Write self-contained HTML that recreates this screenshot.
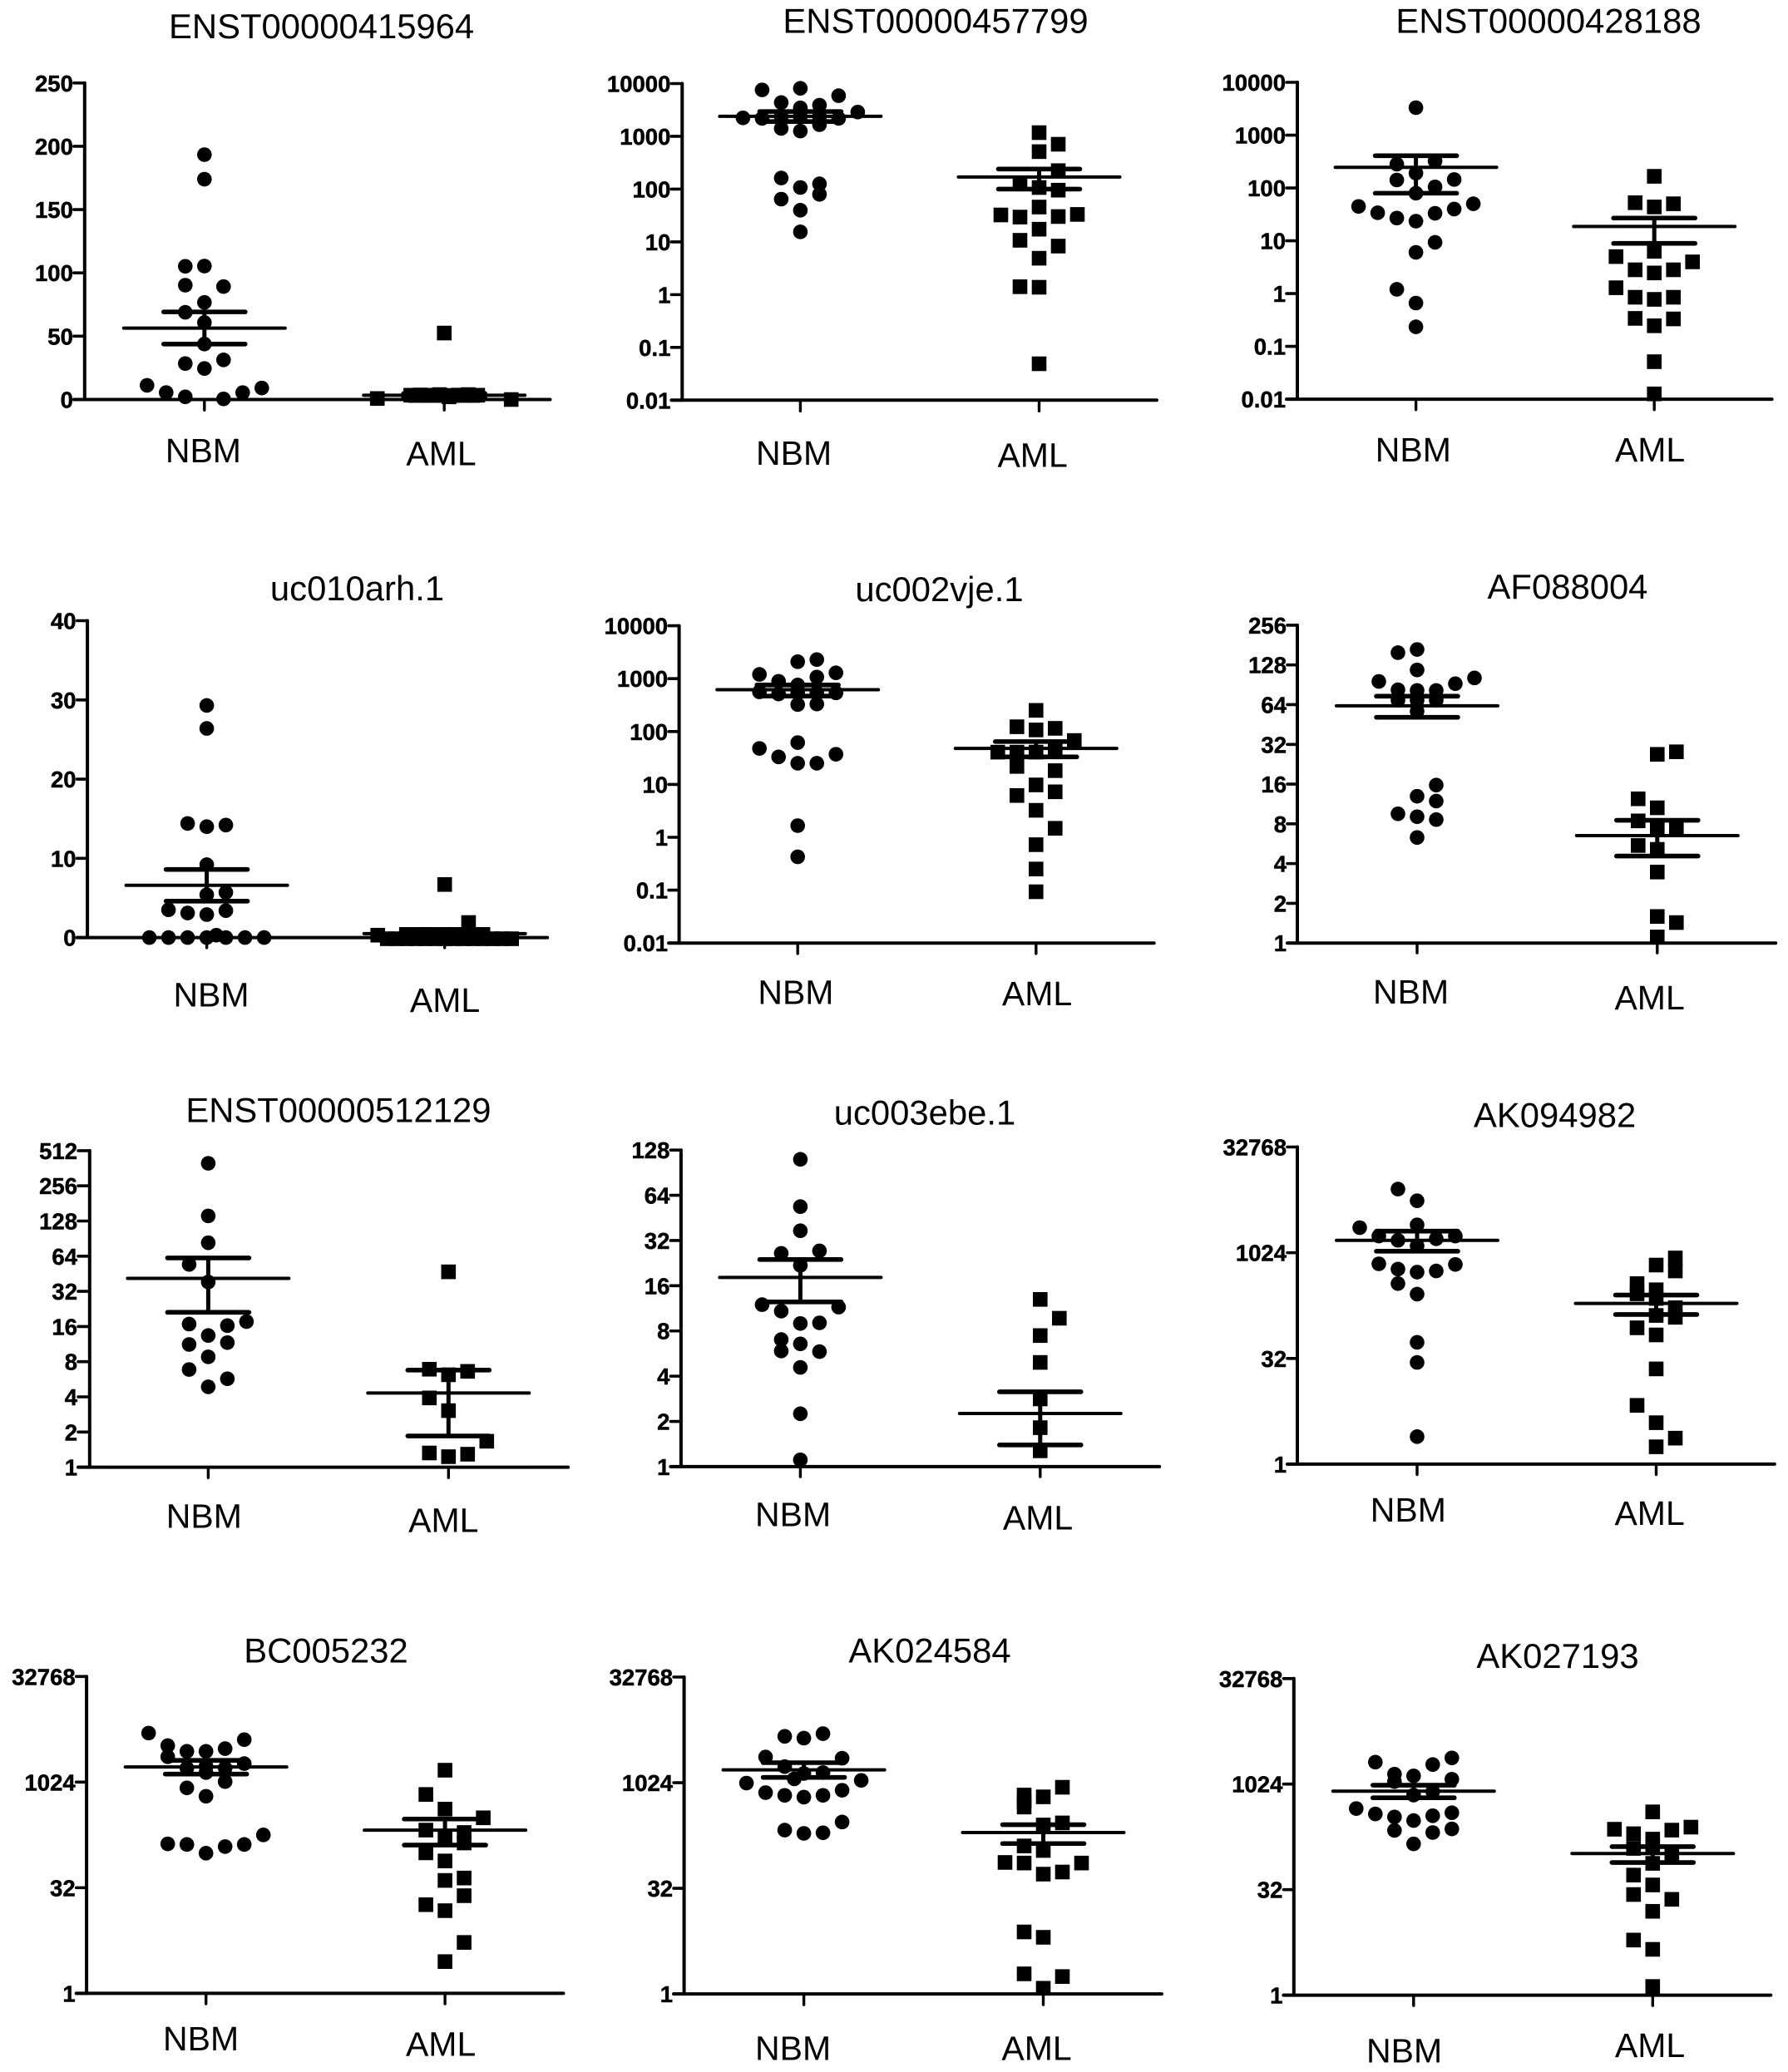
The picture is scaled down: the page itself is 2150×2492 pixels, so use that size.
<!DOCTYPE html>
<html lang="en">
<head>
<meta charset="utf-8">
<title>NBM vs AML expression panels</title>
<style>
  html, body { margin: 0; padding: 0; background: #fff; }
  svg { display: block; }
  text { font-family: "Liberation Sans", Arial, sans-serif; fill: #000; }
</style>
</head>
<body>
<svg id="figure" xmlns="http://www.w3.org/2000/svg" width="2150" height="2492" viewBox="0 0 2150 2492"></svg>
<script>
// ---------- Data (linear panels in raw units, log panels as log10 / log2 exponents) ----------
const titles = ["ENST00000415964","ENST00000457799","ENST00000428188","uc010arh.1","uc002vje.1","AF088004","ENST00000512129","uc003ebe.1","AK094982","BC005232","AK024584","AK027193"];
const categories = ["NBM","AML"];

const tickPositions = [
  [0,50,100,150,200,250],
  [-2,-1,0,1,2,3,4],
  [-2,-1,0,1,2,3,4],
  [0,10,20,30,40],
  [-2,-1,0,1,2,3,4],
  [0,1,2,3,4,5,6,7,8],
  [0,1,2,3,4,5,6,7,8,9],
  [0,1,2,3,4,5,6,7],
  [0,5,10,15],
  [0,5,10,15],
  [0,5,10,15],
  [0,5,10,15]
];
const tickLabels = [
  ["0","50","100","150","200","250"],
  ["0.01","0.1","1","10","100","1000","10000"],
  ["0.01","0.1","1","10","100","1000","10000"],
  ["0","10","20","30","40"],
  ["0.01","0.1","1","10","100","1000","10000"],
  ["1","2","4","8","16","32","64","128","256"],
  ["1","2","4","8","16","32","64","128","256","512"],
  ["1","2","4","8","16","32","64","128"],
  ["1","32","1024","32768"],
  ["1","32","1024","32768"],
  ["1","32","1024","32768"],
  ["1","32","1024","32768"]
];

const nbmValues = [
  [193.4,174,105.2,105.4,90.3,89.2,76.7,68.9,60.8,43.8,28.4,31.3,24.5,11.2,5.5,2.1,0.5,5.5,9.1],
  [3.88,3.91,3.77,3.64,3.54,3.59,3.46,3.35,3.34,3.34,3.37,3.37,3.37,3.15,3.10,3.22,2.21,2.10,2.03,1.90,1.81,1.60,1.19],
  [3.52,2.45,2.51,2.28,2.15,2.16,2.02,1.90,1.65,1.70,1.53,1.43,1.37,1.52,1.60,0.97,0.78,0.08,-0.18,-0.63],
  [29.3,26.4,14.4,14.0,14.2,9.2,5.7,5.4,3.5,3.1,2.9,3.4,0,0,0,0,0,0,0,0.3],
  [3.32,3.36,3.08,3.11,2.95,3.03,2.88,2.75,2.71,2.73,2.73,2.73,2.51,2.52,1.79,1.68,1.52,1.40,1.40,1.57,0.22,-0.37],
  [7.388,7.308,6.873,6.584,6.672,6.527,6.374,6.358,6.358,6.109,6.109,6.109,5.835,3.976,3.694,3.573,3.252,3.179,3.107,2.656],
  [8.64,7.145,6.381,5.766,5.265,4.14,4.069,4.025,3.744,3.542,3.489,3.138,2.777,2.514,2.285],
  [6.795,5.749,5.216,4.717,4.771,4.45,3.582,3.527,3.438,3.165,3.179,2.81,2.714,2.557,2.543,2.194,1.169,0.15],
  [13.01,12.456,11.184,11.316,10.789,10.789,10.585,10.658,10.322,9.474,9.225,9.079,9.137,9.444,8.538,8.041,5.76,4.81,1.301],
  [12.321,11.726,11.201,11.456,11.456,11.584,12.009,10.875,10.662,10.449,10.662,10.75,9.726,10.024,9.329,7.075,7.047,6.635,6.947,7.047,7.5],
  [12.193,12.108,12.321,11.215,11.158,10.761,10.478,10.435,10.18,9.982,10.109,9.528,9.4,9.315,9.4,9.641,8.138,7.755,7.6,7.628],
  [11.04,11.239,10.927,10.472,10.387,10.231,10.118,9.65,9.479,8.841,8.585,8.642,8.443,8.5,8.273,7.805,7.876,7.705,7.166]
];
const nbmSwarmSlots = [
  [0,0,-1,0,-1,1,0,-1,0,0,-1,1,0,-3,-2,-1,1,2,3],
  [-2,0,2,-1,0,1,3,-3,-2,2,0,-1,1,-1,0,1,-1,1,0,1,-1,0,0],
  [0,-1,1,0,-1,2,1,0,-3,3,-2,-1,0,1,2,1,0,-1,0,0],
  [0,0,-1,0,1,0,1,0,-2,-1,0,1,-3,-2,-1,0,1,2,3,0.5],
  [0,1,-2,2,-1,1,0,-2,-1,0,1,2,0,1,0,-2,-1,0,1,2,0,0],
  [0,-1,0,-2,3,2,-1,0,1,-1,0,1,0,1,0,1,-1,0,1,0],
  [0,0,0,-1,0,2,-1,1,0,1,-1,0,-1,1,0],
  [0,0,0,-1,1,0,-2,2,-1,0,1,-1,0,-1,1,0,0,0],
  [-1,0,-3,0,-2,2,-1,1,0,-2,-1,0,1,2,-1,0,0,0,0],
  [-3,-2,-2,-1,0,1,2,2,-1,0,1,0,-1,1,0,-2,-1,0,1,2,3],
  [-1,0,1,-2,2,-1,1,0,-0.5,-3,3,-2,-1,0,1,2,2,-1,0,1],
  [-2,2,1,-1,0,2,-1,1,0,-3,-2,2,-1,1,0,-1,2,1,0]
];
const amlValues = [
  [52.5,0.8,0,3.4,3.6,3.4,3.9,2.1,3.5,3.9,3.4,3.2,3.2,3.2,3.2,3.2,3.2,3.2],
  [3.07,2.85,2.71,2.35,2.12,2.03,1.98,1.66,1.51,1.47,1.48,1.52,1.24,1.03,0.92,0.69,0.15,0.14,-1.31],
  [2.22,1.72,1.64,1.70,0.80,0.70,0.45,0.39,0.45,0.60,0.11,-0.07,-0.11,-0.07,-0.47,-0.61,-0.48,-1.29,-1.90],
  [6.7,1.9,0.3,0.4,0.4,0.4,0.4,0.4,0.4,0.4,0.4,0.4,-0.15,-0.15,-0.15,-0.15,-0.15,-0.15,-0.15,-0.15,-0.15,-0.15,-0.15,-0.15,-0.15,-0.15],
  [2.40,2.09,2.03,2.06,1.83,1.61,1.61,1.61,1.63,1.34,1.26,0.99,0.86,0.79,0.51,0.17,-0.14,-0.60,-1.03],
  [4.749,4.813,3.63,3.404,3.074,2.873,2.913,2.455,2.358,1.787,0.668,0.515,0.153],
  [5.555,2.786,2.628,2.725,1.969,1.608,0.738,0.404,0.299,0.369],
  [3.698,3.281,2.898,2.304,1.497,0.861,0.349],
  [9.751,9.415,9.137,8.538,8.246,8.056,7.836,7.398,7.032,6.944,6.447,6.111,4.503,2.778,1.959,1.228,0.819],
  [10.563,9.415,8.72,8.309,7.727,7.614,7.401,7.118,6.65,6.267,5.459,5.345,4.622,4.197,3.913,2.41,1.503],
  [9.783,9.329,9.415,9.13,8.847,7.997,8.096,7.004,6.791,6.224,6.196,6.196,5.771,5.671,2.935,2.68,0.95,0.822,0.269],
  [8.684,7.861,7.961,7.819,7.649,7.393,6.953,7.067,6.67,6.244,5.69,5.222,4.768,4.541,3.973,2.611,2.171,0.412]
];
const amlSwarmSlots = [
  [0,-3.5,3.5,-1.75,-1.25,-0.75,-0.25,0.25,0.75,1.25,1.75,-1.5,-1,-0.5,0,0.5,1,1.5],
  [0,1,0,1,-1,0,1,0,-2,-1,1,2,0,-1,1,0,-1,0,0],
  [0,-1,0,1,0,-2,-1,0,1,2,-2,-1,0,1,-1,0,1,0,0],
  [0,1.25,-3.5,-2,-1.5,-1,-0.5,0,0.5,1,1.5,2,-3,-2.5,-2,-1.5,-1,-0.5,0,0.5,1,1.5,2,2.5,3,3.5],
  [0,-1,0,1,2,-2,-1,0,1,-1,1,0,1,-1,0,1,0,0,0],
  [0,1,-1,0,-1,0,1,-1,0,0,0,1,0],
  [0,-1,0,1,-1,0,2,-1,0,1],
  [0,1,0,0,0,0,0],
  [1,0,1,-1,0,-1,0,1,0,1,-1,0,0,-1,0,1,0],
  [0,-1,0,2,-1,1,0,1,-1,0,1,0,1,-1,0,1,0],
  [1,0,-1,-1,-1,0,1,-1,0,-2,-1,2,1,0,-1,0,-1,1,0],
  [0,-2,2,1,-1,0,-1,0,1,0,-1,0,-1,1,0,-1,0,0]
];

const nbmMean    = [56.4,3.38,2.39,6.6,2.79,5.972,5.37,4.183,10.585,10.719,10.606,9.664];
const nbmSemHigh = [69.2,3.47,2.61,8.6,2.88,6.213,5.95,4.58,11.02,11.031,10.946,9.948];
const nbmSemLow  = [43.8,3.28,1.90,4.6,2.67,5.682,4.403,3.643,10.07,10.379,10.251,9.351];
const amlMean    = [3.4,2.23,1.27,0.5,1.68,2.704,2.109,1.176,7.602,7.727,7.642,6.712];
const amlSemHigh = [4.7,2.38,1.43,0.6,1.81,3.09,2.76,1.654,7.997,8.252,8.011,7.038];
const amlSemLow  = [1.8,2.0,0.95,0.32,1.52,2.189,0.888,0.479,7.076,7.018,7.118,6.286];

// ---------- Layout (page geometry of each panel, not data) ----------
const layout = [
  {ax:103.8, top:101.4, bot:482.1, right:663.5, tl:90.9, te:494.8, c:[247.8,536.2], tx:388.6, ty:47.7, lx:[246.4,532.5], ly:[557.6,561.2]},
  {ax:822.3, top:102.1, bot:482.9, right:1392.9, tl:809.4, te:496, c:[964.4,1251.5], tx:1127, ty:41.3, lx:[956.6,1243.6], ly:[560.4,563.2]},
  {ax:1562, top:100.6, bot:481.7, right:2132.6, tl:1549, te:494.4, c:[1704.6,1991.2], tx:1864, ty:41.3, lx:[1701.3,1986], ly:[556.4,556.4]},
  {ax:107.1, top:748.1, bot:1129.2, right:660.2, tl:94.6, te:1141.5, c:[250.6,536.7], tx:431.5, ty:723.8, lx:[256,537], ly:[1211.9,1218.8]},
  {ax:818.6, top:754.2, bot:1135.8, right:1389.7, tl:806.1, te:1148.5, c:[961.2,1247.8], tx:1131.5, ty:724.6, lx:[958.9,1249], ly:[1209.2,1210.8]},
  {ax:1562, top:753.5, bot:1135.8, right:2137.2, tl:1550, te:1147.7, c:[1706,1994.8], tx:1887, ty:721.5, lx:[1698.6,1985.6], ly:[1208.8,1215.8]},
  {ax:109.8, top:1385.5, bot:1766.2, right:685.1, tl:96, te:1778.9, c:[252.4,541.3], tx:408.9, ty:1351.3, lx:[247.3,535.3], ly:[1839,1843.9]},
  {ax:820.9, top:1384.8, bot:1765.5, right:1396.2, tl:808.4, te:1777.7, c:[964.4,1252.8], tx:1114, ty:1354.3, lx:[955.6,1250], ly:[1837.2,1840.9]},
  {ax:1562, top:1381.1, bot:1762.5, right:2135.8, tl:1550, te:1775.1, c:[1706,1993.5], tx:1871.6, ty:1356.9, lx:[1695.3,1985.6], ly:[1831.6,1835.4]},
  {ax:106.1, top:2017.9, bot:2399, right:679.5, tl:93.7, te:2411.6, c:[249.7,537.1], tx:394, ty:2001, lx:[243.6,532.1], ly:[2467.8,2473.9]},
  {ax:824.6, top:2018.6, bot:2399.7, right:1398.9, tl:812.1, te:2412.7, c:[968.6,1256.5], tx:1120, ty:2001.3, lx:[955.6,1248.5], ly:[2479.3,2479.3]},
  {ax:1557.8, top:2020.4, bot:2401.2, right:2131.2, tl:1545.4, te:2413.8, c:[1701.8,1989.3], tx:1875, ty:2007.4, lx:[1690.6,1986], ly:[2482.2,2475.7]}
];
const SLOT_WIDTH = 23;
const DOT_R = 8.8;
const SQUARE = 17.6;
const MEAN_HALF = 97;
const CAP_HALF = 49;

// ---------- Rendering ----------
const NS = "http://www.w3.org/2000/svg";
const svg = document.getElementById("figure");

function node(parent, tag, attrs) {
  const el = document.createElementNS(NS, tag);
  for (const k in attrs) el.setAttribute(k, attrs[k]);
  parent.appendChild(el);
  return el;
}
function strokeLine(parent, x1, y1, x2, y2, w) {
  return node(parent, "line", {x1: x1, y1: y1, x2: x2, y2: y2, stroke: "#000", "stroke-width": w, "stroke-linecap": "round"});
}

const root = node(svg, "g", {transform: "translate(-2,-1.6)"});



titles.forEach(function (title, p) {
  const f = layout[p];
  const ticks = tickPositions[p];
  const dMin = ticks[0];
  const dMax = ticks[ticks.length - 1];
  const yScale = function (v) { return f.bot - (v - dMin) / (dMax - dMin) * (f.bot - f.top); };

  const g = node(root, "g", {});
  
  

  const t = node(g, "text", {x: f.tx, y: f.ty, "text-anchor": "middle", "font-size": 41.8});
  
  
  t.textContent = title;

  // points first, so summary bars sit on top
  const series = [
    {vals: nbmValues[p], slots: nbmSwarmSlots[p], cx: f.c[0]},
    {vals: amlValues[p], slots: amlSwarmSlots[p], cx: f.c[1]}
  ];
  series.forEach(function (s, si) {
    s.vals.forEach(function (v, i) {
      const x = s.cx + s.slots[i] * SLOT_WIDTH;
      const y = yScale(v);
      let m;
      if (si === 0) {
        m = node(g, "circle", {cx: x, cy: y, r: DOT_R, fill: "#000"});
        
      } else {
        m = node(g, "rect", {x: x - SQUARE / 2, y: y - SQUARE / 2, width: SQUARE, height: SQUARE, fill: "#000"});
        
      }
      
    });
  });

  // mean and SEM bars
  const stats = [
    {cx: f.c[0], mean: nbmMean[p], hi: nbmSemHigh[p], lo: nbmSemLow[p]},
    {cx: f.c[1], mean: amlMean[p], hi: amlSemHigh[p], lo: amlSemLow[p]}
  ];
  stats.forEach(function (s) {
    const ml = strokeLine(g, s.cx - MEAN_HALF, yScale(s.mean), s.cx + MEAN_HALF, yScale(s.mean), 4);
    
    
    const eb = strokeLine(g, s.cx, yScale(s.hi), s.cx, yScale(s.lo), 5);
    
    
    const c1 = strokeLine(g, s.cx - CAP_HALF, yScale(s.hi), s.cx + CAP_HALF, yScale(s.hi), 5.6);
    
    
    const c2 = strokeLine(g, s.cx - CAP_HALF, yScale(s.lo), s.cx + CAP_HALF, yScale(s.lo), 5.6);
    
    
  });

  // axes
  const ya = strokeLine(g, f.ax, f.top, f.ax, f.bot, 4);
  
  
  const xa = strokeLine(g, f.tl, f.bot, f.right, f.bot, 4);
  
  

  ticks.forEach(function (v, i) {
    const y = yScale(v);
    const tk = strokeLine(g, f.tl, y, f.ax, y, 3.6);
    
    
    const lb = node(g, "text", {x: f.tl - 1, y: y + 10, "text-anchor": "end", "font-size": 27.5, "font-weight": "bold", stroke: "#000", "stroke-width": 0.5});
    
    
    lb.textContent = tickLabels[p][i];
  });

  categories.forEach(function (name, i) {
    const tk = strokeLine(g, f.c[i], f.bot, f.c[i], f.te, 3.4);
    
    
    const lb = node(g, "text", {x: f.lx[i], y: f.ly[i], "text-anchor": "middle", "font-size": 41});
    
    
    lb.textContent = name;
  });
});
</script>
</body>
</html>
